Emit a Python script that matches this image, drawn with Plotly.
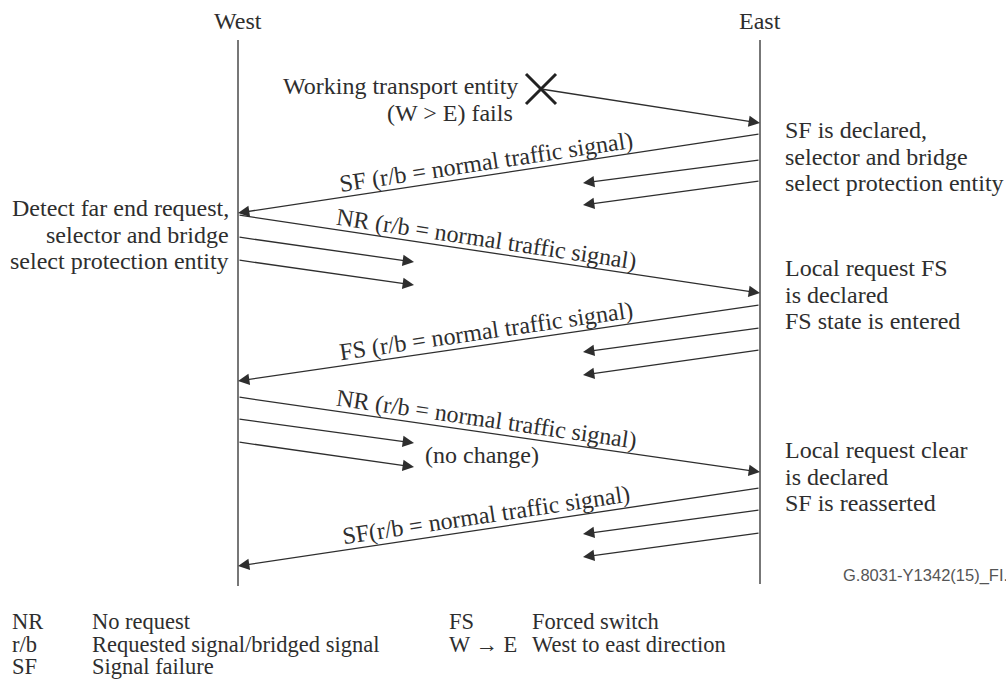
import math
import plotly.graph_objects as go

# ---------------- data ----------------
lane_names = ["West", "East"]
lane_x = [238, 760]
lifeline_top = [40, 40]
lifeline_bottom = [586, 584]

# failure event
fail_text = ["Working transport entity", "(W > E) fails"]
fail_x = [541]
fail_y = [89]
fail_tip_y = [123]

# long messages (with labels)
msg_from = ["East", "West", "East", "West", "East"]
msg_y_start = [134, 215, 305, 397, 488]
msg_y_end = [213, 293, 381, 472, 566]
msg_labels = [
    "SF (r/b = normal traffic signal)",
    "NR (r/b = normal traffic signal)",
    "FS (r/b = normal traffic signal)",
    "NR (r/b = normal traffic signal)",
    "SF(r/b = normal traffic signal)",
]

# short (traffic) arrows
short_from = ["East", "East", "West", "West", "East", "East", "West", "West", "East", "East"]
short_y_start = [160, 181, 237, 260, 328, 350, 419, 442, 510, 533]
short_y_end = [183, 205, 262, 285, 352, 375, 443, 467, 534, 557]
short_tip_x = {"East": 583, "West": 414}

# notes at the East side
east_notes = [
    ["SF is declared,", "selector and bridge", "select protection entity"],
    ["Local request FS", "is declared", "FS state is entered"],
    ["Local request clear", "is declared", "SF is reasserted"],
]
east_note_y = [130, 268, 450]

# notes at the West side
west_notes = [["Detect far end request,", "selector and bridge", "select protection entity"]]
west_note_y = [208]

no_change_text = "(no change)"
no_change_pos = (423, 455)

figure_id = "G.8031-Y1342(15)_FI.3"

legend_left_abbr = ["NR", "r/b", "SF"]
legend_left_desc = ["No request", "Requested signal/bridged signal", "Signal failure"]
legend_right_abbr = ["FS", "W \u2192 E"]
legend_right_desc = ["Forced switch", "West to east direction"]
legend_row_y = [621, 644, 666]

# ---------------- styles ----------------
W, H = 1006, 686
INK = "#2e2e2e"
SERIF = "Liberation Serif, Times New Roman, serif"
FS_MAIN = 24
FS_LEGEND = 22.5
LINE_GAP = 26.5
LW = 1.3

lane = dict(zip(lane_names, lane_x))

fig = go.Figure()

# lifelines
for name, x, y0, y1 in zip(lane_names, lane_x, lifeline_top, lifeline_bottom):
    fig.add_trace(go.Scatter(x=[x, x], y=[y0, y1], mode="lines",
                             line=dict(color=INK, width=LW), hoverinfo="skip", showlegend=False))

annotations = []

def txt(x, y, s, anchor="left", size=FS_MAIN, angle=0, family=SERIF, color=INK):
    annotations.append(dict(x=x, y=y, xref="x", yref="y", text=s, showarrow=False,
                            xanchor=anchor, yanchor="middle", textangle=angle,
                            font=dict(family=family, size=size, color=color)))

def arrow(x0, y0, x1, y1):
    annotations.append(dict(x=x1, y=y1, ax=x0, ay=y0, xref="x", yref="y", axref="x", ayref="y",
                            text="", showarrow=True, arrowhead=2, arrowsize=1.75,
                            arrowwidth=LW, arrowcolor=INK, standoff=0, startstandoff=0))

# lane titles
for name, x in zip(lane_names, lane_x):
    txt(x, 21, name, anchor="center")

# failure cross + arrow
fig.add_trace(go.Scatter(x=fail_x, y=fail_y, mode="markers",
                         marker=dict(symbol="x-thin", size=30, line=dict(color="#222", width=3)),
                         hoverinfo="skip", showlegend=False))
arrow(fail_x[0], fail_y[0], lane["East"], fail_tip_y[0])
txt(fail_x[0] - 21, 86, fail_text[0], anchor="right")
txt(450, 113, fail_text[1], anchor="center")

# long messages
label_cx = 486
for f, ys, ye, lab in zip(msg_from, msg_y_start, msg_y_end, msg_labels):
    to = "West" if f == "East" else "East"
    x0, x1 = lane[f], lane[to]
    arrow(x0, ys, x1, ye)
    # label placed above the line, rotated along it
    xl, xr = min(x0, x1), max(x0, x1)
    yl = ys if x0 == xl else ye
    yr = ye if x0 == xl else ys
    ang = math.degrees(math.atan2(yr - yl, xr - xl))
    yline = yl + (label_cx - xl) / (xr - xl) * (yr - yl)
    txt(label_cx, yline - 13.5, lab, anchor="center", angle=ang)

# short arrows
for f, ys, ye in zip(short_from, short_y_start, short_y_end):
    arrow(lane[f], ys, short_tip_x[f], ye)

# notes
for lines, y in zip(east_notes, east_note_y):
    for i, s in enumerate(lines):
        txt(783, y + i * LINE_GAP, s, anchor="left")
for lines, y in zip(west_notes, west_note_y):
    for i, s in enumerate(lines):
        txt(231, y + i * LINE_GAP, s, anchor="right")

txt(no_change_pos[0], no_change_pos[1], no_change_text, anchor="left")

txt(841, 575, figure_id, anchor="left", size=16.5,
    family="Liberation Sans, Arial, sans-serif", color="#555")

# legend
for a, d, y in zip(legend_left_abbr, legend_left_desc, legend_row_y):
    txt(10, y, a, anchor="left", size=FS_LEGEND)
    txt(90, y, d, anchor="left", size=FS_LEGEND)
for a, d, y in zip(legend_right_abbr, legend_right_desc, legend_row_y):
    txt(447, y, a, anchor="left", size=FS_LEGEND)
    txt(530, y, d, anchor="left", size=FS_LEGEND)

fig.update_layout(
    width=W, height=H,
    margin=dict(l=0, r=0, t=0, b=0),
    paper_bgcolor="white", plot_bgcolor="white",
    xaxis=dict(range=[0, W], visible=False, fixedrange=True),
    yaxis=dict(range=[H, 0], visible=False, fixedrange=True),
    annotations=annotations,
    showlegend=False,
)

fig.write_html("out.html", config={"displayModeBar": False},
               post_script="document.body.style.margin='0';document.body.style.overflow='hidden';")
